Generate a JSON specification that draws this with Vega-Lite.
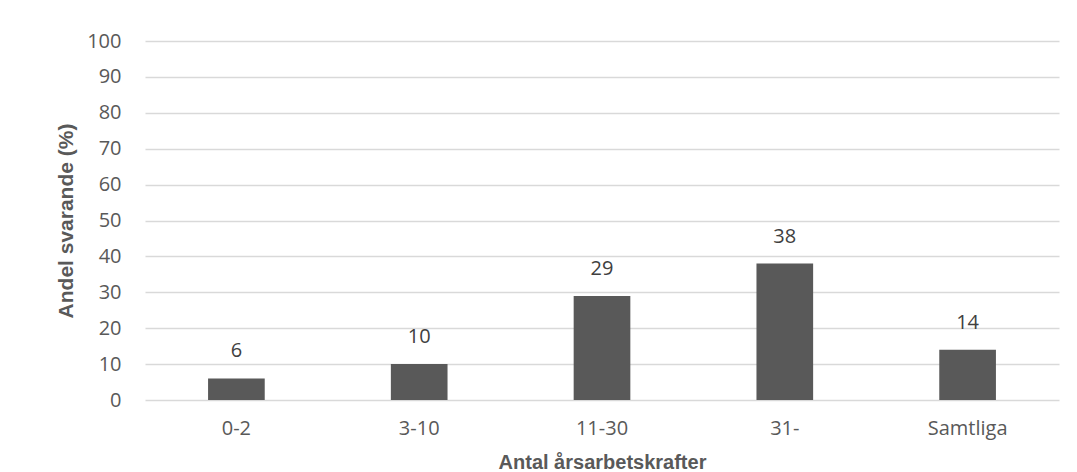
{
  "$schema": "https://vega.github.io/schema/vega-lite/v6.json",
  "width": 914,
  "height": 359,
  "autosize": "none",
  "padding": {"left": 145, "right": 18, "top": 41, "bottom": 72},
  "background": "#ffffff",
  "config": {
    "view": {"stroke": null},
    "axis": {"domain": false, "ticks": false}
  },
  "data": {
    "values": [
      {"grupp": "0-2", "andel": 6},
      {"grupp": "3-10", "andel": 10},
      {"grupp": "11-30", "andel": 29},
      {"grupp": "31-", "andel": 38},
      {"grupp": "Samtliga", "andel": 14}
    ]
  },
  "encoding": {
    "x": {
      "field": "grupp",
      "type": "nominal",
      "sort": null,
      "scale": {"paddingInner": 0.69, "paddingOuter": 0.345},
      "axis": {
        "title": "Antal årsarbetskrafter",
        "titleFont": "Liberation Sans",
        "titleFontSize": 20,
        "titleFontWeight": "bold",
        "titleColor": "#595959",
        "titlePadding": 14,
        "labelFont": "Open Sans",
        "labelFontSize": 20,
        "labelColor": "#595959",
        "labelPadding": 18,
        "labelAngle": 0,
        "grid": false
      }
    },
    "y": {
      "field": "andel",
      "type": "quantitative",
      "scale": {"domain": [0, 100]},
      "axis": {
        "title": "Andel svarande (%)",
        "titleFont": "Liberation Sans",
        "titleFontSize": 21,
        "titleFontWeight": "bold",
        "titleColor": "#595959",
        "titlePadding": 10,
        "labelFont": "Open Sans",
        "labelFontSize": 20,
        "labelColor": "#595959",
        "labelPadding": 24,
        "values": [0, 10, 20, 30, 40, 50, 60, 70, 80, 90, 100],
        "gridColor": "#d9d9d9",
        "gridWidth": 1.5
      }
    }
  },
  "layer": [
    {"mark": {"type": "bar", "color": "#595959"}},
    {
      "mark": {
        "type": "text",
        "dy": -27,
        "font": "Open Sans",
        "fontSize": 20,
        "color": "#404040"
      },
      "encoding": {"text": {"field": "andel", "type": "quantitative"}}
    }
  ]
}
